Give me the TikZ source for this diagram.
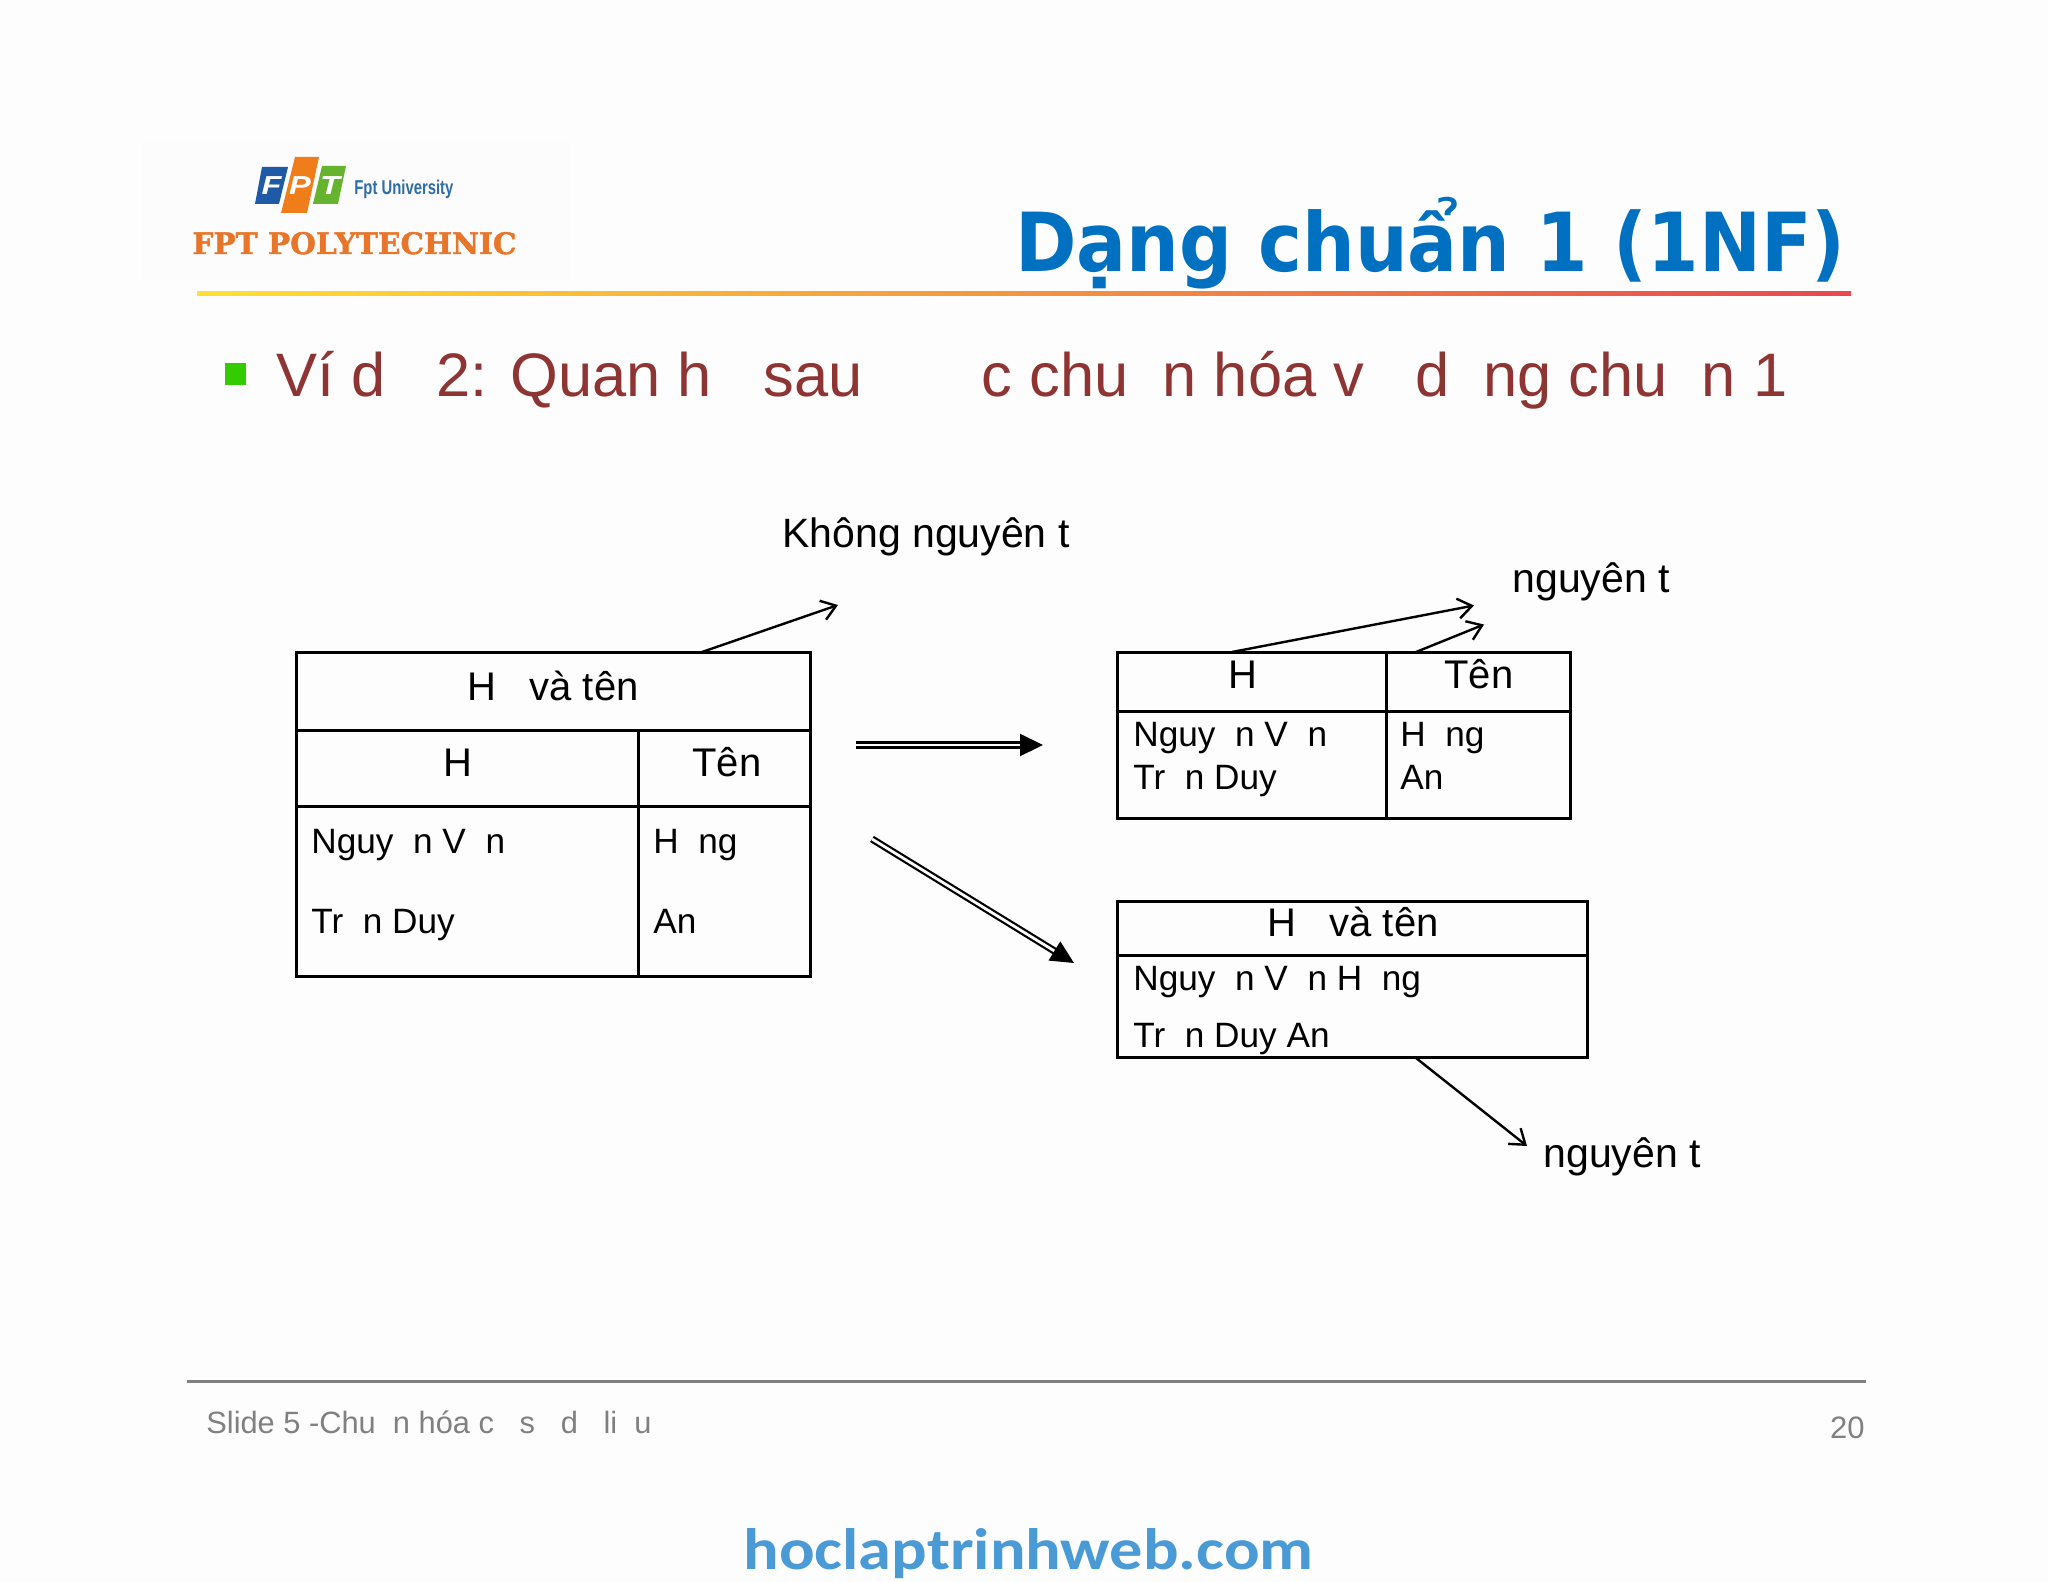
\documentclass[tikz,border=0pt]{standalone}
\usepackage{fontspec}
\usepackage{graphicx}
\usetikzlibrary{arrows.meta}
\setmainfont{Liberation Sans}
\newfontfamily\titlefont{DejaVu Sans}
\newfontfamily\polyfont{DejaVu Serif}[BoldFeatures={FakeBold=1.5}]
\newfontfamily\carlitofont{Carlito}
\newcommand{\fsz}[1]{\fontsize{#1}{#1}\selectfont}
\newcommand{\gp}{\hspace{.556em}}
\definecolor{bgc}{HTML}{FEFDFE}
\definecolor{logobg}{HTML}{FCFCFD}
\definecolor{titleblue}{HTML}{0070C0}
\definecolor{bodyred}{HTML}{8E3432}
\definecolor{bulletgreen}{HTML}{33CC00}
\definecolor{fptblue}{HTML}{1F5AA6}
\definecolor{fptorange}{HTML}{EE7D1A}
\definecolor{fptgreen}{HTML}{66B32E}
\definecolor{polyorange}{HTML}{E8762A}
\definecolor{uniblue}{HTML}{2E6DA8}
\definecolor{webblue}{HTML}{4A9AD6}
\definecolor{ruleyellow}{HTML}{FFE030}
\definecolor{ruleorange}{HTML}{F9B040}
\definecolor{rulered}{HTML}{E84850}
\tikzset{
  headtxt/.style={anchor=base west,inner sep=0pt,font=\fsz{20}},
  txt/.style={anchor=base west,inner sep=0pt,font=\fsz{17.6}},
  lbl/.style={anchor=base west,inner sep=0pt,font=\fsz{20.5}},
  frame/.style={draw=black,line width=1.5pt},
  openarrow/.style={draw=black,line width=1.2pt,-{Straight Barb[length=7pt,width=10pt,line width=1.2pt]}},
  dblarrow/.style={draw=black,line width=1.1pt,double=bgc,double distance=1.4pt,-{Triangle[length=11.5pt,width=11pt]}},
  fptletter/.style={inner sep=0pt,text=white,font=\fsz{13}\bfseries\itshape,xscale=1.25},
}
\begin{document}
\begin{tikzpicture}[x=0.5pt,y=-0.5pt]
\useasboundingbox (0,0) rectangle (2048,1582);
\fill[bgc] (0,0) rectangle (2048,1582);
% logo
\fill[logobg] (142,142) rectangle (570,280);
\fill[fptblue] (262,167) -- (288,167) -- (279,204) -- (255,204) -- cycle;
\fill[fptorange] (295,157) -- (319,157) -- (307,213) -- (281,213) -- cycle;
\fill[fptgreen] (322,166) -- (346,166) -- (338,204) -- (313,204) -- cycle;
\node[fptletter] (lf) at (271.5,186) {F};
\node[fptletter] (lp) at (300,186) {P};
\node[fptletter] (lt) at (330,186) {T};
\node[anchor=base west,inner sep=0pt,text=uniblue,yscale=1.35] (uni) at (354,195) {\resizebox{49.5pt}{!}{\bfseries Fpt University}};
\node[anchor=base west,inner sep=0pt,text=polyorange] (poly) at (192,254) {\resizebox{162pt}{!}{\polyfont\bfseries FPT POLYTECHNIC}};
% title
\node[anchor=base west,inner sep=0pt,text=titleblue,yscale=1.1] (title) at (1015,272) {\resizebox{415pt}{!}{\titlefont\bfseries Dạng chuẩn 1 (1NF)}};
\shade[left color=ruleyellow,middle color=ruleorange,right color=rulered] (197,291.5) rectangle (1851,295.5);
% bullet
\fill[bulletgreen] (225,363) rectangle (246,385);
\node[anchor=base west,inner sep=0pt,text=bodyred,font=\fsz{30.7}] (body) at (276,397)
  {Ví d\gp{} 2: Quan h\gp{} sau \gp\gp\gp c chu\gp n hóa v\gp{} d\gp ng chu\gp n 1};
% left table
\draw[frame] (296,652) rectangle (810,976);
\draw[frame] (296,730) -- (810,730);
\draw[frame] (296,806) -- (810,806);
\draw[frame] (638,730) -- (638,976);
\node[headtxt] (lt1) at (467,700) {H\gp{} và tên};
\node[headtxt] (lt2) at (443,776) {H};
\node[headtxt] (lt3) at (692,776) {Tên};
\node[txt] (lt4) at (311,853) {Nguy\gp n V\gp n};
\node[txt] (lt5) at (653,853) {H\gp ng};
\node[txt] (lt6) at (311,933) {Tr\gp n Duy};
\node[txt] (lt7) at (653,933) {An};
\node[lbl] (lbl1) at (782,548) {Không nguyên t};
\coordinate (s1) at (702,652);
\coordinate (e1) at (838,605);
\draw[openarrow] (s1) -- (e1);
% double arrows
\coordinate (d1s) at (856,745);
\coordinate (d1e) at (1043,745);
\draw[dblarrow] (d1s) -- (d1e);
\coordinate (d2s) at (872,839);
\coordinate (d2e) at (1074,963);
\draw[dblarrow] (d2s) -- (d2e);
% right top table
\draw[frame] (1117,652) rectangle (1570,818);
\draw[frame] (1117,711) -- (1570,711);
\draw[frame] (1386,652) -- (1386,818);
\node[headtxt] (rt1) at (1228,688) {H};
\node[headtxt] (rt2) at (1444,688) {Tên};
\node[txt] (rt3) at (1133,746) {Nguy\gp n V\gp n};
\node[txt] (rt4) at (1400,746) {H\gp ng};
\node[txt] (rt5) at (1133,789) {Tr\gp n Duy};
\node[txt] (rt6) at (1400,789) {An};
\node[lbl] (lbl2) at (1512,593) {nguyên t};
\coordinate (s2) at (1232,652);
\coordinate (e2) at (1474,605.5);
\draw[openarrow] (s2) -- (e2);
\coordinate (s3) at (1416,652);
\coordinate (e3) at (1484,624.5);
\draw[openarrow] (s3) -- (e3);
% right bottom table
\draw[frame] (1117,901) rectangle (1587,1057);
\draw[frame] (1117,955) -- (1587,955);
\node[headtxt] (rb1) at (1267,936) {H\gp{} và tên};
\node[txt] (rb2) at (1133,990) {Nguy\gp n V\gp n H\gp ng};
\node[txt] (rb3) at (1133,1047) {Tr\gp n Duy An};
\node[lbl] (lbl3) at (1543,1167) {nguyên t};
\coordinate (s4) at (1416,1058);
\coordinate (e4) at (1527,1146);
\draw[openarrow] (s4) -- (e4);
% footer
\draw[draw=black!50,line width=1.5pt] (187,1381) -- (1866,1381);
\node[anchor=base west,inner sep=0pt,text=black!50,font=\fsz{15.4}] (foot) at (206,1433) {Slide 5 -Chu\gp n hóa c\gp{} s\gp{} d\gp{} li\gp u};
\node[anchor=base east,inner sep=0pt,text=black!50,font=\fsz{15.5}] (page) at (1865,1438) {20};
\node[anchor=base west,inner sep=0pt,text=webblue,yscale=0.88] (web) at (743,1569) {\resizebox{285pt}{!}{\carlitofont\bfseries hoclaptrinhweb.com}};
\end{tikzpicture}
\end{document}
